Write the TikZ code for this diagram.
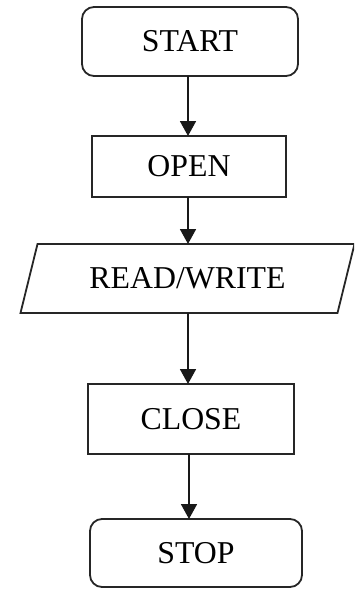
\documentclass[tikz,border=0pt]{standalone}
\usepackage{fontspec}
\setmainfont{Liberation Serif}
\usepackage{tikz}
\usetikzlibrary{positioning, arrows.meta, calc}

\tikzset{
    box/.style={draw=black!85, line width=1.8pt, inner sep=0pt, outer sep=0pt,
        font=\fontsize{31.8}{38}\selectfont},
    term/.style={box, rounded corners=12pt},
    proc/.style={box},
    io/.style={inner sep=0pt, outer sep=0pt, minimum width=317pt, minimum height=69pt,
        font=\fontsize{31.8}{38}\selectfont},
    flow/.style={-{Triangle[length=15pt, width=16pt]}, line width=1.8pt, black!90}
}

\begin{document}
\begin{tikzpicture}[node distance=60pt]

    \useasboundingbox (0,0) rectangle (354pt,-589pt);
    \clip (0,0) rectangle (354pt,-589pt);

    \node (start) [term, minimum width=216pt, minimum height=69pt] at (190pt,-41.5pt) {START};

    \node (open) [proc, minimum width=194pt, minimum height=61pt, below=60pt of start, xshift=-1pt] {OPEN};

    \node (rw) [io, below=47pt of open, xshift=-1.5pt] {READ/WRITE};
    \draw[black!85, line width=1.8pt] ([xshift=-8.5pt]rw.south west) -- ([xshift=8.5pt]rw.north west)
        -- ([xshift=8.5pt]rw.north east) -- ([xshift=-8.5pt]rw.south east) -- cycle;

    \node (close) [proc, minimum width=206pt, minimum height=70pt, below=71pt of rw, xshift=3.5pt] {CLOSE};

    \node (stop) [term, minimum width=212pt, minimum height=68pt, below=65pt of close, xshift=5pt] {STOP};

    \draw[flow] ([xshift=-2pt]start.south) -- ([xshift=-2pt]start.south |- open.north);
    \draw[flow] ([xshift=-1pt]open.south) -- ([xshift=-1pt]open.south |- rw.north);
    \draw[flow] ([xshift=0.5pt]rw.south) -- ([xshift=0.5pt]rw.south |- close.north);
    \draw[flow] ([xshift=-2pt]close.south) -- ([xshift=-2pt]close.south |- stop.north);

\end{tikzpicture}
\end{document}
